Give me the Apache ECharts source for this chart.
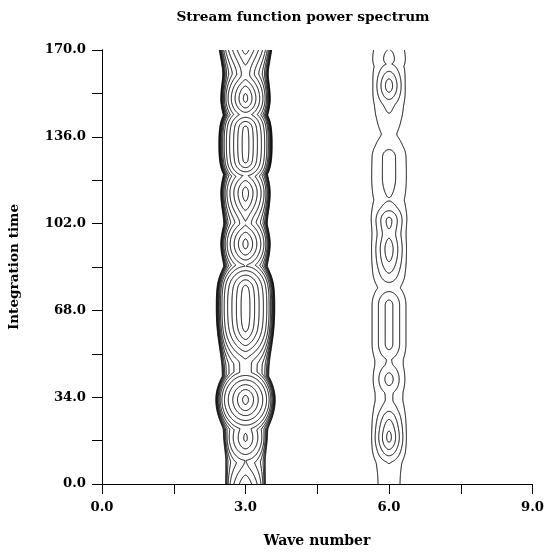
<!DOCTYPE html>
<html><head><meta charset="utf-8">
<script src="https://cdn.jsdelivr.net/npm/echarts@6/dist/echarts.min.js"></script>
<style>html,body{margin:0;padding:0;background:#fff}#c{width:547px;height:557px}</style>
</head><body><div id="c"></div>
<script>
// ---- tick labels ----
const xTickLabels = ['0.0', '3.0', '6.0', '9.0'];
const yTickLabels = ['0.0', '34.0', '68.0', '102.0', '136.0', '170.0'];
// ---- contour levels ----
const contourLevels = [1, 2, 3, 4, 5, 6, 7, 8, 9, 10, 11, 12, 13, 14];

// ---- ridge at wave number 3: time, crest level, half-width (wave-number units) ----
const wave3Time  = [-3, 0, 9, 18, 23, 33, 41.5, 47, 62, 69, 76, 85, 94, 102, 114, 122, 127, 133, 139, 143.5, 151, 160.5, 172];
const wave3Level = [8.4, 7.8, 6.02, 9.15, 8.6, 13.3, 8.8, 8.75, 13.4, 13.6, 13.4, 9.01, 12.3, 9.95, 12.4, 10.05, 13.3, 13.45, 13.3, 10.02, 13.25, 10.6, 12.8];
const wave3Width = [0.42, 0.42, 0.42, 0.46, 0.48, 0.625, 0.49, 0.50, 0.60, 0.615, 0.60, 0.46, 0.52, 0.46, 0.52, 0.46, 0.54, 0.56, 0.54, 0.46, 0.52, 0.48, 0.56];

// ---- ridge at wave number 6 ----
const wave6Time  = [-3, 0, 6, 10.5, 14, 17, 18.4, 20, 25, 28, 33, 36.5, 41, 45.5, 49, 55, 70, 76, 80, 83, 92, 98, 103, 106, 110, 111.6, 113, 120, 128, 130, 137, 143, 146, 150, 156, 161, 163, 164.8, 166.5, 170, 173];
const wave6Level = [1.6, 1.7, 1.85, 2.4, 4.0, 5.1, 5.25, 5.1, 4.0, 3.0, 2.2, 2.3, 3.4, 2.3, 2.1, 3.3, 3.3, 1.5, 2.0, 3.0, 4.5, 3.85, 4.25, 3.0, 2.05, 1.92, 2.05, 2.4, 2.4, 2.05, 1.3, 1.8, 2.05, 2.6, 4.45, 3.0, 2.1, 1.95, 2.3, 2.0, 1.8];
const wave6Width = [0.36, 0.36, 0.37, 0.38, 0.40, 0.40, 0.40, 0.40, 0.40, 0.40, 0.39, 0.39, 0.39, 0.40, 0.41, 0.42, 0.42, 0.38, 0.40, 0.41, 0.41, 0.41, 0.42, 0.44, 0.45, 0.45, 0.46, 0.47, 0.46, 0.44, 0.36, 0.38, 0.40, 0.40, 0.38, 0.40, 0.42, 0.44, 0.45, 0.45, 0.45];

const ridges = [
  { center: 3, span: 0.8, time: wave3Time, level: wave3Level, width: wave3Width, lin: 0.47, pow: 10, core: 0.08 },
  { center: 6, span: 0.6, time: wave6Time, level: wave6Level, width: wave6Width, lin: 1.0, pow: 10, core: 0.15 }
];
const ASPECT = (434 / 170) / 48; // one time unit expressed in wave-number units of equal pixel length

function monoInterp(xs, ys) {
  const n = xs.length, d = [], m = new Array(n);
  for (let i = 0; i < n - 1; i++) d[i] = (ys[i + 1] - ys[i]) / (xs[i + 1] - xs[i]);
  m[0] = d[0]; m[n - 1] = d[n - 2];
  for (let i = 1; i < n - 1; i++) m[i] = (d[i - 1] * d[i] <= 0) ? 0 : (d[i - 1] + d[i]) / 2;
  for (let i = 0; i < n - 1; i++) {
    if (d[i] === 0) { m[i] = 0; m[i + 1] = 0; continue; }
    const a = m[i] / d[i], b = m[i + 1] / d[i], s = a * a + b * b;
    if (s > 9) { const tau = 3 / Math.sqrt(s); m[i] = tau * a * d[i]; m[i + 1] = tau * b * d[i]; }
  }
  return function (x) {
    if (x <= xs[0]) return ys[0];
    if (x >= xs[n - 1]) return ys[n - 1];
    let i = 0;
    while (i < n - 2 && x > xs[i + 1]) i++;
    const h = xs[i + 1] - xs[i], t = (x - xs[i]) / h, t2 = t * t, t3 = t2 * t;
    return (2 * t3 - 3 * t2 + 1) * ys[i] + (t3 - 2 * t2 + t) * h * m[i] + (-2 * t3 + 3 * t2) * ys[i + 1] + (t3 - t2) * h * m[i + 1];
  };
}

// field: every crest sample spreads radially (rounded contour ends)
function buildField(r) {
  const Hf = monoInterp(r.time, r.level), Wf = monoInterp(r.time, r.width);
  const hn = Math.sqrt(1 + r.core * r.core) - r.core, c2 = r.core * r.core, lin = r.lin;
  const xs = [], ts = [];
  const nX = Math.round(2 * r.span / 0.01);
  for (let i = 0; i <= nX; i++) xs.push(r.center - r.span + i * 0.01);
  for (let j = 0; j <= 680; j++) ts.push(j * 0.25);
  const nx = xs.length, V = new Float64Array(nx * ts.length).fill(-1e9);
  const dx2 = xs.map(x => (x - r.center) * (x - r.center));
  const taus = [];
  for (let k = -24; k <= 704; k++) taus.push(k * 0.25);
  const TH = taus.map(Hf), TW = taus.map(Wf);
  for (let j = 0; j < ts.length; j++) {
    const t = ts[j], base = j * nx;
    for (let k = 0; k < taus.length; k++) {
      const dy = (t - taus[k]) * ASPECT, W = TW[k];
      if (Math.abs(dy) > 1.15 * W) continue;
      const H = TH[k], A = H - 0.5, dy2 = dy * dy, iw2 = 1 / (W * W);
      for (let i = 0; i < nx; i++) {
        const u2 = (dx2[i] + dy2) * iw2;
        const u = Math.sqrt(u2);
        const h = (Math.sqrt(u2 + c2) - r.core) / hn;
        const u4 = u2 * u2, u10 = u4 * u4 * u2;
        const v = H - A * (lin * h + (1 - lin) * u10);
        if (v > V[base + i]) V[base + i] = v;
      }
    }
  }
  return { xs, ts, V };
}

function marching(f, lev) {
  const { xs, ts, V } = f, nx = xs.length, nt = ts.length;
  const adj = new Map();
  function link(a, b) {
    if (!adj.has(a)) adj.set(a, []);
    if (!adj.has(b)) adj.set(b, []);
    adj.get(a).push(b); adj.get(b).push(a);
  }
  for (let j = 0; j < nt - 1; j++) {
    for (let i = 0; i < nx - 1; i++) {
      const k = j * nx + i;
      const v0 = V[k], v1 = V[k + 1], v2 = V[k + nx + 1], v3 = V[k + nx];
      const c = (v0 > lev ? 1 : 0) | (v1 > lev ? 2 : 0) | (v2 > lev ? 4 : 0) | (v3 > lev ? 8 : 0);
      if (c === 0 || c === 15) continue;
      const e0 = 2 * k, e1 = 2 * (k + 1) + 1, e2 = 2 * (k + nx), e3 = 2 * k + 1;
      const ctr = (v0 + v1 + v2 + v3) / 4 > lev;
      switch (c) {
        case 1: case 14: link(e3, e0); break;
        case 2: case 13: link(e0, e1); break;
        case 3: case 12: link(e3, e1); break;
        case 4: case 11: link(e1, e2); break;
        case 6: case 9: link(e0, e2); break;
        case 7: case 8: link(e3, e2); break;
        case 5: if (ctr) { link(e0, e1); link(e2, e3); } else { link(e3, e0); link(e1, e2); } break;
        case 10: if (ctr) { link(e3, e0); link(e1, e2); } else { link(e0, e1); link(e2, e3); } break;
      }
    }
  }
  function pt(id) {
    if (id % 2 === 0) {
      const k = id / 2, i = k % nx, j = (k - i) / nx;
      const fr = (lev - V[k]) / (V[k + 1] - V[k]);
      return [xs[i] + fr * (xs[i + 1] - xs[i]), ts[j]];
    } else {
      const k = (id - 1) / 2, i = k % nx, j = (k - i) / nx;
      const fr = (lev - V[k]) / (V[k + nx] - V[k]);
      return [xs[i], ts[j] + fr * (ts[j + 1] - ts[j])];
    }
  }
  function take(cur) {
    const nb = adj.get(cur);
    if (!nb || !nb.length) return -1;
    const n = nb.pop();
    const nb2 = adj.get(n), q = nb2.indexOf(cur);
    if (q >= 0) nb2.splice(q, 1);
    return n;
  }
  const chains = [];
  function walk(id) {
    const chain = [id]; let cur = id, n;
    while ((n = take(cur)) !== -1) { chain.push(n); cur = n; }
    chains.push(chain.map(pt));
  }
  for (const [id, nb] of adj) if (nb.length === 1) walk(id);
  for (const [id, nb] of adj) while (nb.length > 0) walk(id);
  return chains;
}

const lineData = [];
ridges.forEach(r => {
  const f = buildField(r);
  contourLevels.forEach(lev => {
    marching(f, lev).forEach(c => { if (c.length > 1) lineData.push({ coords: c }); });
  });
});

const FONT = '"DejaVu Serif", "Liberation Serif", serif';
const labelStyle = { color: '#000', fontFamily: FONT, fontWeight: 'bold', fontSize: 13.2 };

function xFmt(v) { const q = v / 3; return Math.abs(q - Math.round(q)) < 1e-6 ? xTickLabels[Math.round(q)] : ''; }
function yFmt(v) { const q = v / 34; return Math.abs(q - Math.round(q)) < 1e-6 ? yTickLabels[Math.round(q)] : ''; }

const chart = echarts.init(document.getElementById('c'));
chart.setOption({
  animation: false,
  backgroundColor: '#fff',
  grid: { left: 102, right: 13, top: 50, bottom: 73 },
  xAxis: [
    { type: 'value', min: 0, max: 9, interval: 1.5, offset: 2,
      axisLine: { lineStyle: { color: '#000', width: 1 } },
      axisTick: { length: 10, lineStyle: { color: '#000' } },
      axisLabel: Object.assign({ formatter: xFmt, margin: 15, showMaxLabel: true, showMinLabel: true }, labelStyle),
      splitLine: { show: false } },
    { type: 'value', position: 'top', min: 0, max: 9,
      axisLine: { show: true, lineStyle: { color: '#000', width: 1 } },
      axisTick: { show: false }, axisLabel: { show: false }, splitLine: { show: false } }
  ],
  yAxis: [
    { type: 'value', min: 0, max: 170, interval: 17, offset: 2,
      axisLine: { show: true, lineStyle: { color: '#000', width: 1 } },
      axisTick: { show: true, length: 10, lineStyle: { color: '#000' } },
      axisLabel: Object.assign({ formatter: yFmt, margin: 14, showMaxLabel: true, showMinLabel: true }, labelStyle),
      splitLine: { show: false } },
    { type: 'value', position: 'right', min: 0, max: 170,
      axisLine: { show: true, lineStyle: { color: '#000', width: 1 } },
      axisTick: { show: false }, axisLabel: { show: false }, splitLine: { show: false } }
  ],
  graphic: [
    { type: 'text', x: 303, y: 17, style: { text: 'Stream function power spectrum', font: 'bold 13.7px ' + FONT, fill: '#000', align: 'center', verticalAlign: 'middle', textAlign: 'center', textVerticalAlign: 'middle' } },
    { type: 'text', x: 317, y: 541, style: { text: 'Wave number', font: 'bold 14px ' + FONT, fill: '#000', align: 'center', verticalAlign: 'middle', textAlign: 'center', textVerticalAlign: 'middle' } },
    { type: 'text', x: 14, y: 267, rotation: Math.PI / 2, style: { text: 'Integration time', font: 'bold 13.6px ' + FONT, fill: '#000', align: 'center', verticalAlign: 'middle', textAlign: 'center', textVerticalAlign: 'middle' } }
  ],
  series: [{
    type: 'lines', coordinateSystem: 'cartesian2d', polyline: true, silent: true,
    xAxisIndex: 0, yAxisIndex: 0,
    lineStyle: { color: '#000', width: 1, opacity: 1 },
    data: lineData
  }]
});
</script>
</body></html>
